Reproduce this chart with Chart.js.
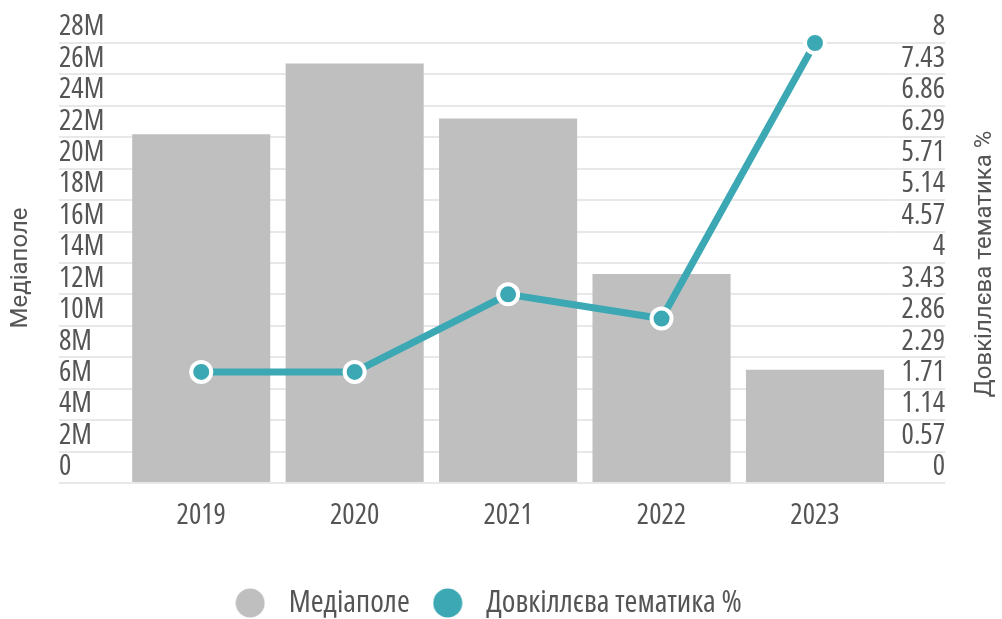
<!DOCTYPE html>
<html><head><meta charset="utf-8">
<script src="https://cdn.jsdelivr.net/npm/chart.js@4.4.1/dist/chart.umd.min.js"></script>
<style>html,body{margin:0;padding:0;background:#fff}#wrap{width:1002px;height:619px;position:relative}</style>
</head><body><div id="wrap"><canvas id="c"></canvas></div>
<script>
const categories = ['2019', '2020', '2021', '2022', '2023'];
const mediaValues = [22.2e6, 26.7e6, 23.2e6, 13.3e6, 7.2e6];
const envValues = [2.02, 2.02, 3.43, 2.99, 8.0];
const leftTickLabels = ['0','2M','4M','6M','8M','10M','12M','14M','16M','18M','20M','22M','24M','26M','28M'];
const rightTickLabels = ['0','0.57','1.14','1.71','2.29','2.86','3.43','4','4.57','5.14','5.71','6.29','6.86','7.43','8'];
const leftMax = 28e6;
const rightMax = 8;
const seriesNames = ['Медіаполе', 'Довкіллєва тематика %'];
const axisTitleLeft = 'Медіаполе';
const axisTitleRight = 'Довкіллєва тематика %';

const TXT = '#555555';
const GRID = '#e8e8e8';
const BAR = '#bfbfbf';
const TEAL = '#3ba8b4';
const NARROW = "'Open Sans', 'DejaVu Sans Condensed', sans-serif";
const COND = 'condensed';
const LEGEND_SHIFT = -17.5;

function evenTicks(labels, max) {
  return function(scale) {
    scale.ticks = labels.map((l, i) => ({ value: i * max / (labels.length - 1) }));
  };
}

function legendDot(color) {
  const c = document.createElement('canvas');
  c.width = 30; c.height = 30;
  const g = c.getContext('2d');
  g.fillStyle = color;
  g.beginPath();
  g.arc(15, 15, 14.5, 0, Math.PI * 2);
  g.fill();
  return c;
}

const legendOffset = {
  id: 'legendOffset',
  afterLayout(chart) {
    if (chart.legend) {
      chart.legend.left += LEGEND_SHIFT;
      chart.legend.right += LEGEND_SHIFT;
    }
  }
};

const axisTitles = {
  id: 'axisTitles',
  afterDraw(chart) {
    const ctx = chart.ctx;
    ctx.save();
    ctx.fillStyle = TXT;
    ctx.font = "24px Roboto, 'Open Sans', sans-serif";
    ctx.textAlign = 'center';
    ctx.textBaseline = 'middle';
    const items = [[axisTitleLeft, 21, 268], [axisTitleRight, 985, 264]];
    items.forEach(([t, x, y]) => {
      ctx.save();
      ctx.translate(x, y);
      ctx.rotate(-Math.PI / 2);
      ctx.fillText(t, 0, 0);
      ctx.restore();
    });
    ctx.restore();
  }
};

new Chart(document.getElementById('c'), {
  type: 'bar',
  data: {
    labels: categories,
    datasets: [
      {
        type: 'bar',
        label: seriesNames[0],
        data: mediaValues,
        backgroundColor: BAR,
        borderWidth: 0,
        categoryPercentage: 0.9,
        barPercentage: 1.0,
        yAxisID: 'y',
        order: 2
      },
      {
        type: 'line',
        label: seriesNames[1],
        data: envValues,
        borderColor: TEAL,
        backgroundColor: TEAL,
        borderWidth: 7,
        tension: 0,
        pointRadius: 10,
        pointBorderWidth: 4,
        pointBorderColor: '#ffffff',
        pointBackgroundColor: TEAL,
        pointHoverRadius: 10,
        pointStyle: 'circle',
        clip: false,
        yAxisID: 'y1',
        order: 1
      }
    ]
  },
  options: {
    responsive: true,
    maintainAspectRatio: false,
    animation: false,
    events: [],
    layout: { padding: { left: 59, right: 57, top: 43, bottom: -9.5 } },
    plugins: {
      tooltip: { enabled: false },
      legend: {
        position: 'bottom',
        labels: {
          usePointStyle: true,
          pointStyleWidth: 46,
          padding: 15,
          color: TXT,
          font: { family: NARROW, size: 31, weight: COND },
          generateLabels(chart) {
            return chart.data.datasets.map((ds, i) => {
              const col = ds.type === 'line' ? ds.pointBackgroundColor : ds.backgroundColor;
              return {
                text: ds.label,
                fillStyle: col,
                strokeStyle: col,
                lineWidth: 0,
                pointStyle: legendDot(col),
                hidden: false,
                datasetIndex: i,
                fontColor: TXT
              };
            });
          }
        }
      }
    },
    scales: {
      x: {
        grid: { display: false, drawTicks: false },
        border: { display: false },
        ticks: { color: TXT, font: { family: NARROW, size: 29, weight: COND }, padding: 15 },
        afterFit(scale) { scale.height = 89.5; }
      },
      y: {
        position: 'left',
        min: 0,
        max: leftMax,
        afterBuildTicks: evenTicks(leftTickLabels, leftMax),
        afterFit(scale) { scale.width = 65.5; },
        grid: { color: GRID, lineWidth: 2, tickLength: 65.5, drawTicks: true },
        border: { display: false },
        ticks: {
          color: TXT,
          font: { family: NARROW, size: 29, weight: COND },
          crossAlign: 'far',
          labelOffset: -16,
          padding: 0,
          autoSkip: false,
          callback: (v, i) => leftTickLabels[i]
        }
      },
      y1: {
        position: 'right',
        min: 0,
        max: rightMax,
        afterBuildTicks: evenTicks(rightTickLabels, rightMax),
        afterFit(scale) { scale.width = 53.3; },
        grid: { color: GRID, lineWidth: 2, tickLength: 53.3, drawTicks: true, drawOnChartArea: false },
        border: { display: false },
        ticks: {
          color: TXT,
          font: { family: NARROW, size: 29, weight: COND },
          crossAlign: 'far',
          labelOffset: -16,
          padding: 0,
          autoSkip: false,
          callback: (v, i) => rightTickLabels[i]
        }
      }
    }
  },
  plugins: [axisTitles, legendOffset]
});
</script>
</body></html>
